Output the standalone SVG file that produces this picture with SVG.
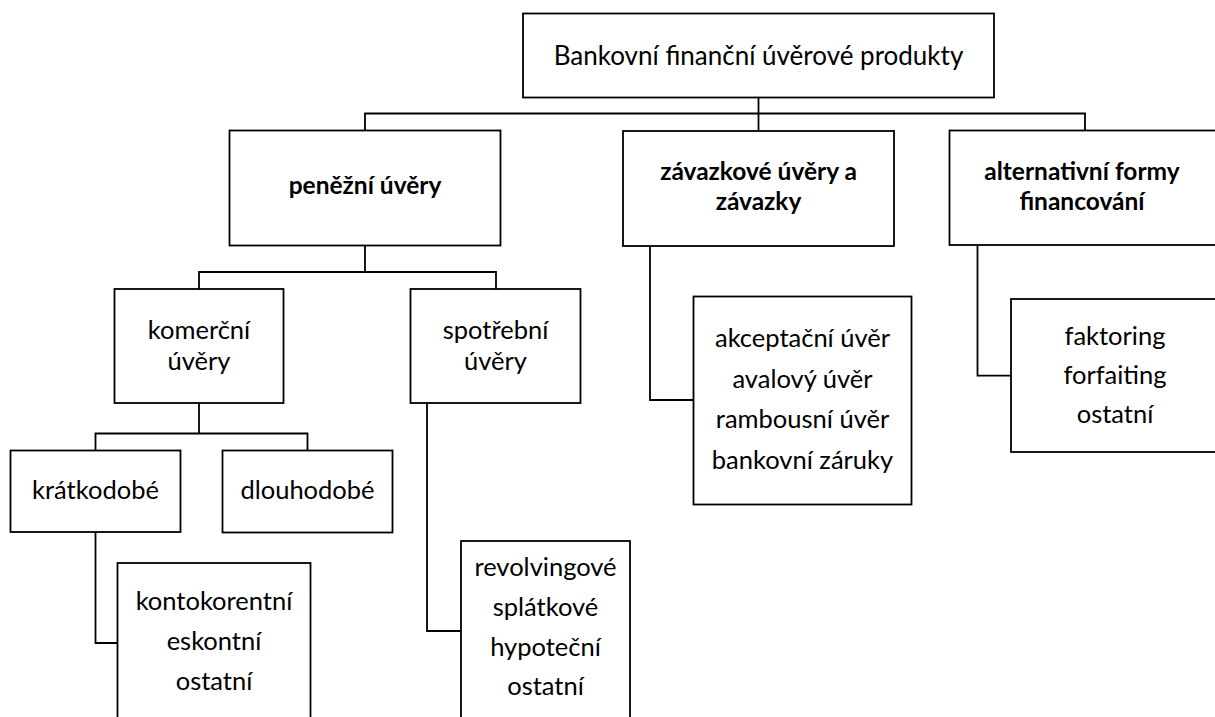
<svg xmlns="http://www.w3.org/2000/svg" width="1215" height="717" viewBox="0 0 1215 717">
<style>
.box{fill:#fff;stroke:#000;stroke-width:1.8}
.con{fill:none;stroke:#000;stroke-width:1.8}
text{font-family:Lato,"Open Sans","Liberation Sans",sans-serif;font-size:25.5px;fill:#000;text-anchor:middle}
.b{font-weight:bold;font-size:24.5px}
.big{font-size:26px}
</style>
<rect width="1215" height="717" fill="#fff"/>
<g id="connectors">
<path class="con" d="M758.5 97.5V131"/>
<path class="con" d="M365 130.5V113.5H1085V130.5"/>
<path class="con" d="M365 245.5V272"/>
<path class="con" d="M199 289V272H496V289"/>
<path class="con" d="M199 403V433.5"/>
<path class="con" d="M95.5 450.5V433.5H307.5V450.5"/>
<path class="con" d="M95.5 532V643H117.5"/>
<path class="con" d="M427 403V631H461"/>
<path class="con" d="M650 246V400H693.5"/>
<path class="con" d="M977.5 245V375.7H1011"/>
</g>
<g id="root">
<rect class="box" x="523" y="13.5" width="471" height="84"/>
<text class="big" x="758.5" y="65">Bankovní finanční úvěrové produkty</text>
</g>
<g id="penezni">
<rect class="box" x="229.5" y="130.5" width="271" height="115"/>
<text class="b" x="365" y="194">peněžní úvěry</text>
</g>
<g id="zavazkove">
<rect class="box" x="623" y="131" width="271" height="115"/>
<text class="b" x="758.5" y="180">závazkové úvěry a</text>
<text class="b" x="758.5" y="209.5">závazky</text>
</g>
<g id="alternativni">
<rect class="box" x="949.5" y="130.5" width="271" height="114.5"/>
<text class="b" x="1082" y="180">alternativní formy</text>
<text class="b" x="1082" y="209.5">financování</text>
</g>
<g id="komercni">
<rect class="box" x="114.5" y="289" width="169" height="114"/>
<text x="199" y="339">komerční</text>
<text x="199" y="370">úvěry</text>
</g>
<g id="spotrebni">
<rect class="box" x="410.5" y="289" width="170" height="114"/>
<text x="495.5" y="339">spotřební</text>
<text x="495.5" y="370">úvěry</text>
</g>
<g id="kratkodobe">
<rect class="box" x="10.5" y="450.5" width="170" height="81.5"/>
<text x="95.5" y="499">krátkodobé</text>
</g>
<g id="dlouhodobe">
<rect class="box" x="222.5" y="450.5" width="170" height="82"/>
<text x="307.5" y="499">dlouhodobé</text>
</g>
<g id="kontokorentni">
<rect class="box" x="117.5" y="563" width="193" height="170"/>
<text x="214" y="610">kontokorentní</text>
<text x="214" y="650">eskontní</text>
<text x="214" y="690">ostatní</text>
</g>
<g id="revolvingove">
<rect class="box" x="461" y="541" width="169" height="190"/>
<text x="545.5" y="576">revolvingové</text>
<text x="545.5" y="616">splátkové</text>
<text x="545.5" y="656">hypoteční</text>
<text x="545.5" y="695">ostatní</text>
</g>
<g id="akceptacni">
<rect class="box" x="693.5" y="296.5" width="218" height="208"/>
<text x="802.5" y="347">akceptační úvěr</text>
<text x="802.5" y="387.5">avalový úvěr</text>
<text x="802.5" y="428">rambousní úvěr</text>
<text x="802.5" y="468.5">bankovní záruky</text>
</g>
<g id="faktoring">
<rect class="box" x="1011" y="299" width="208" height="153"/>
<text x="1115" y="345">faktoring</text>
<text x="1115" y="384">forfaiting</text>
<text x="1115" y="423">ostatní</text>
</g>
</svg>
